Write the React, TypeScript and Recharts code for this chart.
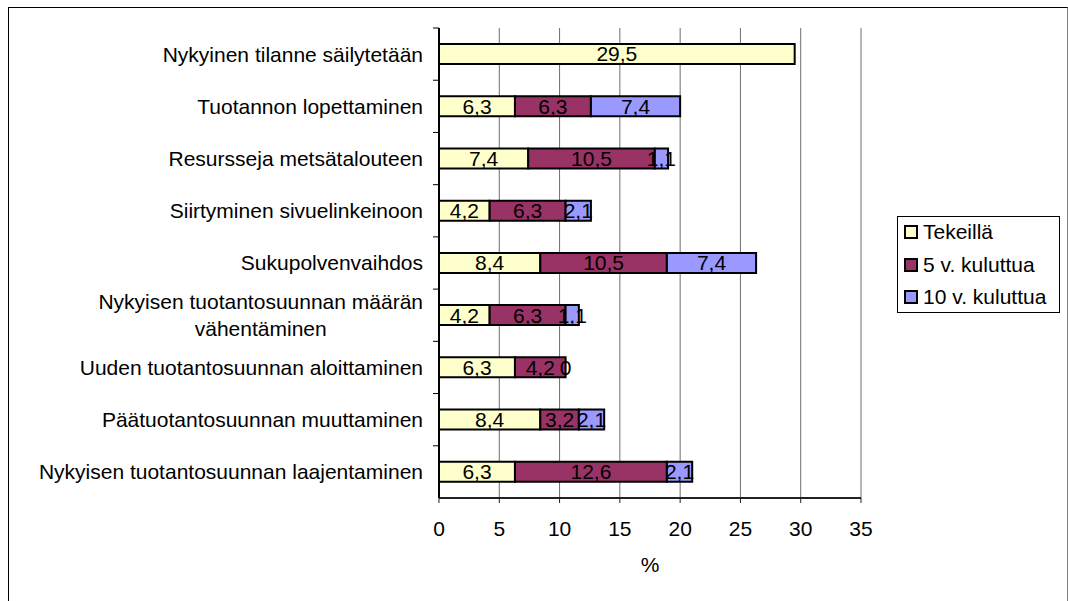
import { BarChart, Bar, XAxis, YAxis, CartesianGrid, LabelList } from "recharts";

const categories = [
  "Nykyinen tilanne säilytetään",
  "Tuotannon lopettaminen",
  "Resursseja metsätalouteen",
  "Siirtyminen sivuelinkeinoon",
  "Sukupolvenvaihdos",
  "Nykyisen tuotantosuunnan määrän\nvähentäminen",
  "Uuden tuotantosuunnan aloittaminen",
  "Päätuotantosuunnan muuttaminen",
  "Nykyisen tuotantosuunnan laajentaminen",
];

const tekeilla = [29.5, 6.3, 7.4, 4.2, 8.4, 4.2, 6.3, 8.4, 6.3];
const viisiVuotta = [null, 6.3, 10.5, 6.3, 10.5, 6.3, 4.2, 3.2, 12.6];
const kymmenenVuotta = [null, 7.4, 1.1, 2.1, 7.4, 1.1, 0, 2.1, 2.1];

const xTicks = [0, 5, 10, 15, 20, 25, 30, 35];

const series = [
  { key: "tekeilla", name: "Tekeillä", color: "#FFFFCC" },
  { key: "viisi", name: "5 v. kuluttua", color: "#993366" },
  { key: "kymmenen", name: "10 v. kuluttua", color: "#9999FF" },
];

const data = categories.map((name, i) => ({
  name,
  tekeilla: tekeilla[i],
  viisi: viisiVuotta[i],
  kymmenen: kymmenenVuotta[i],
}));

const FONT = "'Liberation Sans', Arial, sans-serif";
const FONT_SIZE = 21;
const CHART_W = 1058;
const CHART_H = 590;
const MARGIN = { top: 20, right: 206, bottom: 20, left: 0 };
const X_AXIS_H = 80;
const BAND = (CHART_H - MARGIN.top - MARGIN.bottom - X_AXIS_H) / categories.length;

let ctx: CanvasRenderingContext2D | null = null;
function textWidth(s: string) {
  if (!ctx) {
    ctx = document.createElement("canvas").getContext("2d");
  }
  if (!ctx) return s.length * 10;
  ctx.font = `${FONT_SIZE}px ${FONT}`;
  return ctx.measureText(s).width;
}

function CategoryTick(props: any) {
  const { x, y, payload } = props;
  const lines = String(payload.value).split("\n");
  const lh = 27;
  const top = y - ((lines.length - 1) * lh) / 2;
  const blockW = Math.max(...lines.map(textWidth));
  const cx = lines.length > 1 ? x - blockW / 2 : x;
  return (
    <g>
      <line x1={x + 10} x2={x + 16} y1={y - BAND / 2} y2={y - BAND / 2} stroke="#000" strokeWidth={1} />
      <text
        textAnchor={lines.length > 1 ? "middle" : "end"}
        fontSize={FONT_SIZE}
        fontFamily={FONT}
        fill="#000"
      >
        {lines.map((l, i) => (
          <tspan key={i} x={cx} y={top + i * lh} dy="0.355em">
            {l}
          </tspan>
        ))}
      </text>
    </g>
  );
}

const fmt = (v: any) => (v === null || v === undefined ? "" : String(v).replace(".", ","));

function labelText(key: string, x: number, y: number, value: any) {
  return (
    <text
      key={key}
      x={x}
      y={y}
      dy="0.355em"
      textAnchor="middle"
      fill="#000"
      fontSize={FONT_SIZE}
      fontFamily={FONT}
    >
      {fmt(value)}
    </text>
  );
}

// value labels; a zero in the next series gets no segment of its own,
// so its "0" is written at the end of the segment before it
function makeLabel(seriesIndex: number) {
  return (props: any) => {
    const vb = props.viewBox ?? props;
    const { x, y, width, height } = vb;
    const value = props.value;
    if (value === null || value === undefined || value === 0) return null;
    const cy = y + height / 2;
    const row = Math.floor((cy - MARGIN.top) / BAND);
    const out = [labelText("v", x + width / 2, cy, value)];
    const next = series[seriesIndex + 1];
    if (next && data[row] && (data[row] as any)[next.key] === 0) {
      out.push(labelText("z", x + width, cy, 0));
    }
    return <g>{out}</g>;
  };
}

export default function App() {
  return (
    <div
      style={{
        position: "absolute",
        left: 8,
        top: 7,
        width: CHART_W,
        height: 600,
        borderTop: "1px solid #000",
        borderLeft: "1px solid #000",
        borderRight: "1px solid #808080",
        background: "#fff",
        fontFamily: FONT,
      }}
    >
      <BarChart
        width={CHART_W}
        height={CHART_H}
        data={data}
        layout="vertical"
        margin={MARGIN}
        barSize={20}
      >
        <CartesianGrid horizontal={false} stroke="#6e6e6e" />
        <XAxis
          type="number"
          domain={[0, 35]}
          ticks={xTicks}
          height={X_AXIS_H}
          tickSize={5}
          tickMargin={18}
          axisLine={{ stroke: "#222", strokeWidth: 2 }}
          tickLine={{ stroke: "#222" }}
          tick={{ fill: "#000", fontSize: FONT_SIZE, fontFamily: FONT }}
          label={{ value: "%", position: "insideBottom", offset: 6, fill: "#000", fontSize: FONT_SIZE, fontFamily: FONT }}
        />
        <YAxis
          type="category"
          dataKey="name"
          width={430}
          interval={0}
          tickSize={6}
          tickMargin={10}
          tickLine={false}
          axisLine={{ stroke: "#000", strokeWidth: 2 }}
          tick={<CategoryTick />}
        />
        {series.map((s, si) => (
          <Bar
            key={s.key}
            dataKey={s.key}
            name={s.name}
            stackId="a"
            fill={s.color}
            stroke="#000"
            strokeWidth={2}
            isAnimationActive={false}
          >
            <LabelList dataKey={s.key} content={makeLabel(si)} />
          </Bar>
        ))}
      </BarChart>
      <div
        style={{
          position: "absolute",
          left: 888,
          top: 208,
          width: 161,
          height: 95,
          border: "1px solid #000",
          background: "#fff",
        }}
      >
        {series.map((s, i) => (
          <div
            key={s.key}
            style={{
              position: "absolute",
              left: 6,
              top: i * 32.6 - 1,
              height: 32,
              display: "flex",
              alignItems: "center",
              fontSize: FONT_SIZE,
              whiteSpace: "nowrap",
              color: "#000",
            }}
          >
            <span
              style={{
                display: "inline-block",
                width: 10,
                height: 10,
                background: s.color,
                border: "2px solid #000",
                marginRight: 5,
              }}
            />
            {s.name}
          </div>
        ))}
      </div>
    </div>
  );
}
